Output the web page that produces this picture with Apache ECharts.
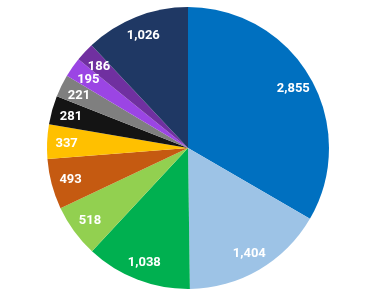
<!DOCTYPE html>
<html><head><meta charset="utf-8">
<script src="https://cdn.jsdelivr.net/npm/echarts@6/dist/echarts.min.js"></script>
<style>html,body{margin:0;padding:0;background:#fff}#c{width:384px;height:298px}</style>
</head><body><div id="c"></div>
<script>
var categories = ['A','B','C','D','E','F','G','H','I','J','K'];
var values = [2855, 1404, 1038, 518, 493, 337, 281, 221, 195, 186, 1026];
var colors = ['#0070c0','#9dc3e6','#00b050','#92d050','#c55a11','#ffc000','#141414','#7f7f7f','#9b45e4','#7030a0','#1f3864'];
var data = categories.map(function(c,i){return {name:c, value:values[i], itemStyle:{color:colors[i]}};});
var labelData = categories.map(function(c,i){return {name:c, value:values[i]};});
var chart = echarts.init(document.getElementById('c'));
chart.setOption({
  animation:false,
  series:[
    {type:'pie', center:[188,148], radius:[0,141], startAngle:90, clockwise:true,
     label:{show:false}, labelLine:{show:false}, silent:true, data:data},
    {type:'pie', center:[188,148], radius:[96,141], startAngle:90, clockwise:true,
     itemStyle:{color:'rgba(0,0,0,0)'}, silent:true,
     label:{show:true, position:'inside', color:'#fff', fontFamily:'Roboto', fontWeight:'bold', fontSize:13,
       offset:[0,1],
       formatter:function(p){return p.value.toLocaleString('en-US');}},
     labelLine:{show:false}, data:labelData}
  ]
});
</script></body></html>
